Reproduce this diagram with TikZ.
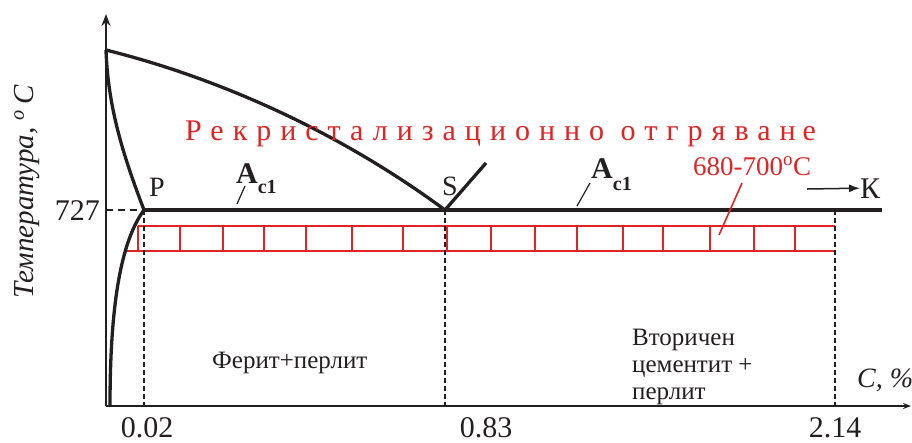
\documentclass[tikz,border=0pt]{standalone}
\usepackage{fontspec}
\setmainfont{Liberation Serif}
\newfontfamily\tnr{Liberation Serif}
\usetikzlibrary{arrows.meta}
\definecolor{rd}{RGB}{226,35,35}
\definecolor{ink}{RGB}{35,31,32}
\begin{document}
\begin{tikzpicture}[x=1pt,y=-1pt,
  curve/.style={draw=ink,line width=3.3pt,line join=miter},
  axis/.style={draw=ink,line width=1.5pt},
  guide/.style={draw=ink,line width=1.3pt,dash pattern=on 5pt off 3pt},
  band/.style={draw=rd,line width=2.7pt},
  rung/.style={draw=rd,line width=2.2pt},
  lead/.style={draw=ink,line width=1.2pt},
  txt/.style={inner sep=0pt,text=ink},
  big/.style={font=\tnr\fontsize{30}{30}\selectfont},
  mid/.style={font=\tnr\fontsize{28}{28}\selectfont},
  small/.style={font=\tnr\fontsize{25}{27}\selectfont},
]
\path[use as bounding box] (0,0) rectangle (912,442);

% key points
\coordinate (O) at (106,406);
\coordinate (Ytop) at (106,14);
\coordinate (Xend) at (911,406);
\coordinate (Tm) at (106,50);
\coordinate (P) at (144,210);
\coordinate (S) at (445,210);
\coordinate (Send) at (486,163);
\coordinate (Kend) at (882,210);
\coordinate (Gbot) at (110,406);
\coordinate (Ybar) at (106,210);
\coordinate (Pb) at (144,406);
\coordinate (Sb) at (445,406);
\coordinate (Et) at (835,210);
\coordinate (Eb) at (835,406);

% axes
\draw[axis,-{Stealth[length=12pt,width=9pt]}] (O) -- (Ytop);
\draw[axis,-{Stealth[length=8pt,width=6pt]}] (O) -- (Xend);

% red annealing band
\draw[band] (138,226) -- (835,226);
\draw[band] (127,251) -- (835,251);
\foreach \xx in {138,180,223,264,306,352,403,447,491,535,577,623,663,710,754,795}
  \draw[rung] (\xx,226) -- (\xx,251);

% guide lines
\draw[guide] (P) -- (Pb);
\draw[guide] (S) -- (Sb);
\draw[guide] (Et) -- (Eb);
\draw[draw=ink,line width=2.5pt,dash pattern=on 7pt off 5pt] (Ybar) -- (P);

% phase lines
\draw[curve] (Tm) .. controls (226,80) and (345,136) .. (S);
\draw[curve] (Tm) .. controls (108,110) and (125,160) .. (P);
\draw[curve] (P) .. controls (122,240) and (110,300) .. (Gbot);
\draw[curve] (P) -- (Kend);
\draw[curve] (S) -- (Send);

% labels
\node[txt,big,anchor=east] (t727) at (100,211) {727};
\node[txt,mid] (lP) at (157,187) {P};
\node[txt,mid] (lS) at (450,186) {S};
\node[txt,big,anchor=base west] (a1) at (236,183) {\bfseries A\raisebox{-10pt}{\fontsize{20}{20}\selectfont c1}};
\node[txt,big,anchor=base west] (a2) at (591,178) {\bfseries A\raisebox{-12pt}{\fontsize{20}{20}\selectfont c1}};
\coordinate (a1s) at (245,186);
\coordinate (a1e) at (237,204);
\coordinate (a2s) at (590,183);
\coordinate (a2e) at (577,206);
\draw[lead] (a1s) -- (a1e);
\draw[lead] (a2s) -- (a2e);

\node[txt,anchor=base west,text=rd,font=\tnr\fontsize{30}{30}\selectfont\addfontfeatures{LetterSpace=30}] (title) at (185,140)
  {Рекристализационно отгряван\kern7pt е};

\node[txt,anchor=base west,text=rd,font=\tnr\fontsize{27}{27}\selectfont] (temp) at (693,175) {680-700\textsuperscript{o}C};
\coordinate (ts) at (742,183);
\coordinate (te) at (719,235);
\draw[draw=rd,line width=1.6pt] (ts) -- (te);

\coordinate (ks) at (807,189);
\node[txt,big,anchor=base west] (lK) at (860,198) {К};
\draw[draw=ink,line width=1.5pt,-{Latex[length=11pt,width=8pt]}] (ks) -- (lK.west);

\node[txt,anchor=base,rotate=90,font=\tnr\itshape\fontsize{29}{29}\selectfont] (ylab) at (33,192) {Температура, \textsuperscript{o}\,C};

\node[txt,small,anchor=base west] (fp) at (212,368) {Ферит+перлит};
\node[txt,small,anchor=base west,align=left] (vc) at (632,399) {Вторичен\\цементит +\\перлит};
\node[txt,anchor=base west,font=\tnr\itshape\fontsize{28}{28}\selectfont] (cx) at (857,387) {C, \%};

\node[txt,big,anchor=base,text depth=0pt] (x002) at (147,437) {0.02};
\node[txt,big,anchor=base,text depth=0pt] (x083) at (486,437) {0.83};
\node[txt,big,anchor=base,text depth=0pt] (x214) at (835,437) {2.14};
\end{tikzpicture}
\end{document}
